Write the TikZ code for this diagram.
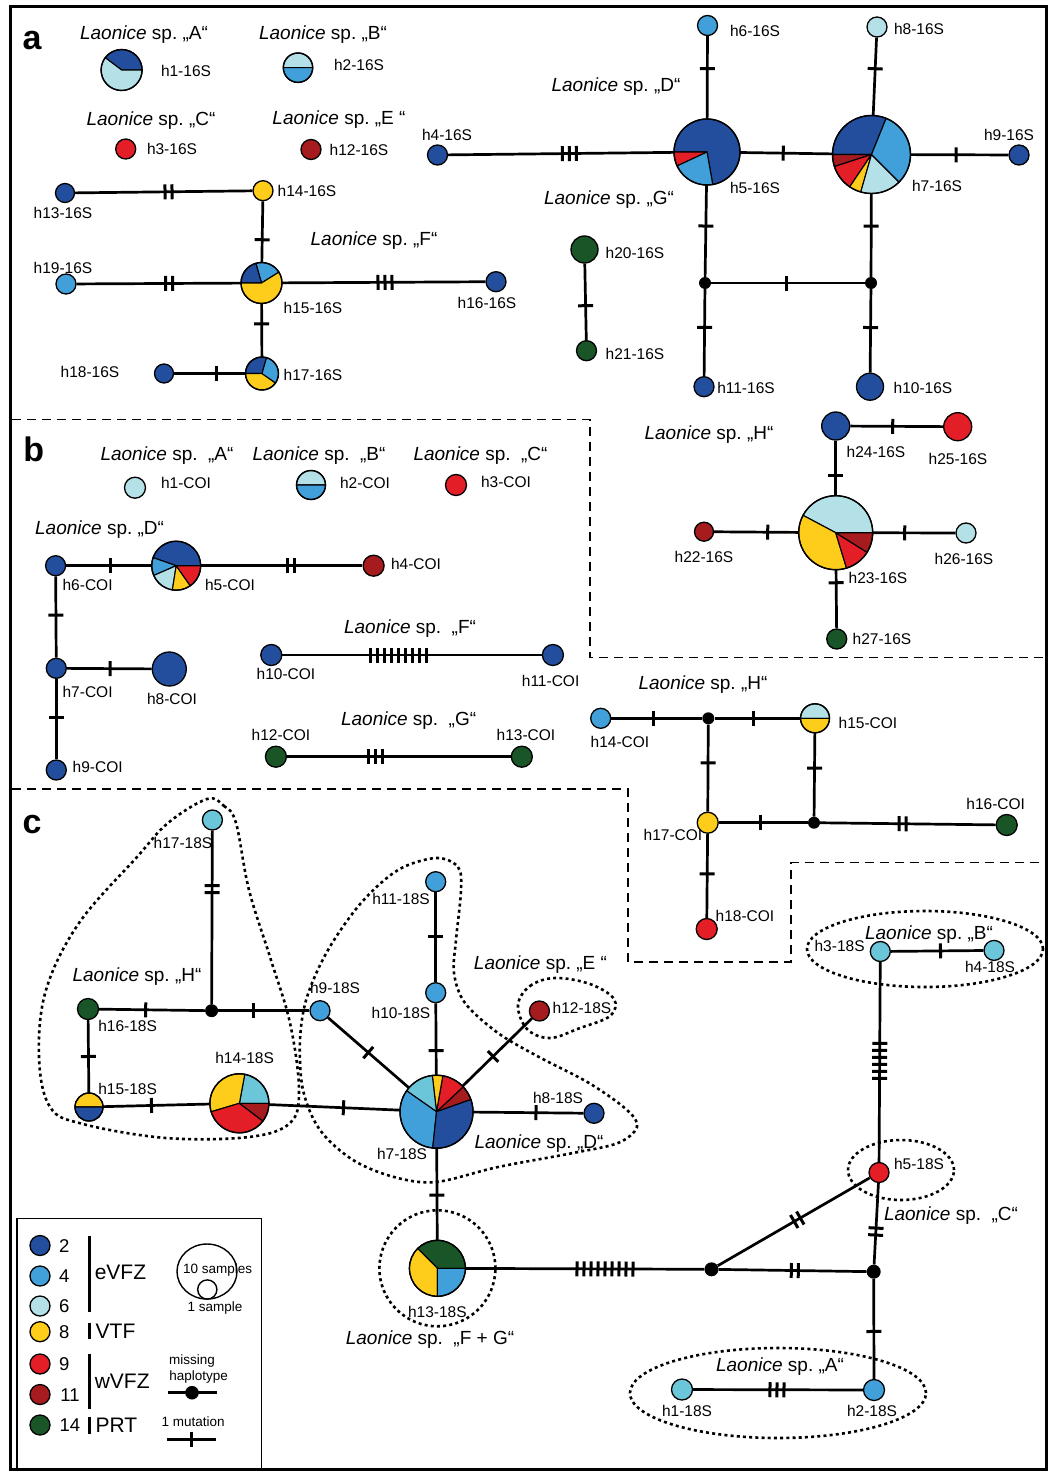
\documentclass[tikz,border=0pt]{standalone}
\usepackage{fontspec}
\setmainfont{Liberation Sans}
\usetikzlibrary{decorations.markings}
\definecolor{cdb}{RGB}{35,78,158}
\definecolor{cmb}{RGB}{65,160,218}
\definecolor{clb}{RGB}{180,224,232}
\definecolor{cy}{RGB}{254,204,26}
\definecolor{cr}{RGB}{228,30,38}
\definecolor{cdr}{RGB}{166,27,30}
\definecolor{cg}{RGB}{26,85,40}
\definecolor{ccy}{RGB}{108,198,218}
\newcommand\Lsp{\textit{Laonice} sp.\ }
\newcommand\Lspw{\textit{Laonice} sp.\hspace{0.55em}}
\newcommand\hpie[3]{%
  \foreach \a/\b/\c in {#3}{\filldraw[fill=\c, draw=black, line width=1.1pt, line join=round] (#1.center) -- ++(\a:#2pt) arc[start angle=\a, end angle=\b, radius=#2pt] -- cycle;}%
  \draw[line width=1.4pt] (#1.center) circle[radius=#2pt];}
\tikzset{
  edge/.style={line width=2.7pt},
  hap/.style={circle, draw=black, line width=1.3pt, inner sep=0pt, minimum size=#1},
  pnode/.style={circle, inner sep=0pt, minimum size=#1},
  miss/.style={circle, fill=black, inner sep=0pt, minimum size=#1},
  lab/.style={inner sep=0pt, font=\fontsize{15.5}{17}\selectfont, text height=11.1pt, text depth=0pt},
  spl/.style={inner sep=0pt, font=\fontsize{19}{20}\selectfont, text height=13.6pt, text depth=0pt},
  legnum/.style={inner sep=0pt, font=\fontsize{18.5}{20}\selectfont, text height=13.2pt, text depth=0pt},
  legreg/.style={inner sep=0pt, anchor=west, font=\fontsize{21}{22}\selectfont, text height=15pt, text depth=0pt},
  legsm/.style={inner sep=0pt, font=\fontsize{13.5}{14}\selectfont, text height=9.7pt, text depth=0pt},
  panel/.style={inner sep=0pt, anchor=base, font=\fontsize{34}{34}\selectfont\bfseries},
  pdash/.style={line width=1.4pt, dash pattern=on 9pt off 6pt},
  blob/.style={line width=2.6pt, dash pattern=on 3pt off 3.2pt},
  mut/.style 2 args={postaction={decorate, decoration={markings, mark=at position #1 with {\foreach \k in {1,...,#2}{\draw[line width=3pt] ({(\k-(#2+1)/2)*7pt},-7.5pt) -- ({(\k-(#2+1)/2)*7pt},7.5pt);}}}}}
}
\begin{document}
\begin{tikzpicture}[x=1pt,y=-1pt]
\useasboundingbox (0,0) rectangle (1051,1471);
\fill[white] (0,0) rectangle (1051,1471);
% frame and panel separators
\draw[line width=3pt] (10.5,7) rectangle (1046.5,1469.5);
\draw[pdash] (12,419.5) -- (590,419.5) -- (590,657.7) -- (1045,657.7);
\draw[pdash] (12,789) -- (628,789) -- (628,962) -- (791,962) -- (791,862.5) -- (1045,862.5);

% ---------------- panel a nodes ----------------
\node[pnode=41pt] (a1) at (121.6,70) {};
\node[pnode=29.4pt] (a2) at (298,67.7) {};
\node[hap=20pt, fill=cr] (a3) at (125.7,149) {};
\node[hap=20pt, fill=cdr] (a12) at (311,149.5) {};
\node[hap=20pt, fill=cdb] (a4) at (437.5,155) {};
\node[pnode=66pt] (a5) at (707,152) {};
\node[hap=20pt, fill=cmb] (a6) at (707.5,25.5) {};
\node[pnode=78pt] (a7) at (871.5,154.5) {};
\node[hap=20pt, fill=clb] (a8) at (877,27) {};
\node[hap=20pt, fill=cdb] (a9) at (1019,155) {};
\node[miss=12pt] (am1) at (705,283) {};
\node[miss=12pt] (am2) at (871,283) {};
\node[hap=20pt, fill=cdb] (a11) at (704,386.7) {};
\node[hap=27pt, fill=cdb] (a10) at (870,386.7) {};
\node[hap=27pt, fill=cg] (a20) at (584.5,249.5) {};
\node[hap=20pt, fill=cg] (a21) at (586.5,350.7) {};
\node[hap=19pt, fill=cdb] (a13) at (65,193) {};
\node[hap=20pt, fill=cy] (a14) at (263,190.7) {};
\node[pnode=41pt] (a15) at (261.5,283) {};
\node[hap=20pt, fill=cmb] (a19) at (66,284) {};
\node[hap=20pt, fill=cdb] (a16) at (496,281.7) {};
\node[pnode=33pt] (a17) at (262,373.5) {};
\node[hap=19pt, fill=cdb] (a18) at (164,373.5) {};
\node[hap=28pt, fill=cdb] (a24) at (835.7,426) {};
\node[hap=28pt, fill=cr] (a25) at (957.7,426.7) {};
\node[pnode=74pt] (a23) at (835.7,532.7) {};
\node[hap=19pt, fill=cdr] (a22) at (704,531.7) {};
\node[hap=20pt, fill=clb] (a26) at (966,533) {};
\node[hap=20pt, fill=cg] (a27) at (836.7,639) {};

% ---------------- panel b nodes ----------------
\node[hap=21pt, fill=clb] (b1) at (135,487.7) {};
\node[pnode=29pt] (b2) at (311,485) {};
\node[hap=21pt, fill=cr] (b3) at (456,485) {};
\node[hap=20pt, fill=cdb] (b6) at (55.6,565.7) {};
\node[pnode=49pt] (b5) at (176.2,565.7) {};
\node[hap=21pt, fill=cdr] (b4) at (373.6,565.7) {};
\node[hap=20pt, fill=cdb] (b7) at (56.3,668.3) {};
\node[hap=34pt, fill=cdb] (b8) at (169.3,669) {};
\node[hap=20pt, fill=cdb] (b9) at (56.3,770) {};
\node[hap=21pt, fill=cdb] (b10) at (271.3,655) {};
\node[hap=21pt, fill=cdb] (b11) at (552.9,655) {};
\node[hap=21pt, fill=cg] (b12) at (275.9,756.7) {};
\node[hap=21pt, fill=cg] (b13) at (521.8,756.7) {};
\node[hap=20pt, fill=cmb] (b14) at (600.7,718.3) {};
\node[miss=12pt] (bm3) at (708.3,718.3) {};
\node[pnode=29pt] (b15) at (815,718.3) {};
\node[hap=21pt, fill=cy] (b17) at (707.7,822.7) {};
\node[miss=12pt] (bm4) at (814,822.7) {};
\node[hap=21pt, fill=cg] (b16) at (1006.7,825) {};
\node[hap=21pt, fill=cr] (b18) at (706.7,929) {};

% ---------------- panel c nodes ----------------
\node[hap=20pt, fill=ccy] (c17) at (212.4,820) {};
\node[miss=13pt] (cm5) at (211.6,1010.7) {};
\node[hap=21pt, fill=cg] (c16) at (88,1009) {};
\node[hap=20pt, fill=cmb] (c9) at (320,1010.7) {};
\node[pnode=28pt] (c15) at (89,1107) {};
\node[pnode=59pt] (c14) at (239.4,1103.3) {};
\node[hap=20pt, fill=cmb] (c11) at (435.7,881.7) {};
\node[hap=20pt, fill=cmb] (c10) at (435.7,992.7) {};
\node[pnode=73pt] (c7) at (436.5,1111.7) {};
\node[hap=20pt, fill=cdr] (c12) at (539.4,1011) {};
\node[hap=20pt, fill=cdb] (c8) at (594,1113.3) {};
\node[pnode=56pt] (c13) at (437.4,1268.3) {};
\node[miss=14pt] (cm6) at (711.5,1269.3) {};
\node[miss=14pt] (cm7) at (873.7,1271.7) {};
\node[hap=20pt, fill=cr] (c5) at (879,1172.5) {};
\node[hap=20pt, fill=ccy] (c3) at (880.3,951.5) {};
\node[hap=20pt, fill=ccy] (c4) at (994,950.4) {};
\node[hap=21pt, fill=ccy] (c1) at (682,1389.5) {};
\node[hap=21pt, fill=cmb] (c2) at (874,1390) {};

% ---------------- dotted groupings (panel c) ----------------
\draw[blob] plot[smooth cycle, tension=0.6] coordinates {(207,799) (224,806) (236,823) (249,890) (270,957) (290,1023) (299,1090) (290,1123) (249,1137) (166,1138) (83,1124) (50,1107) (39,1057) (46,990) (79,923) (137,857) (168,823)};
\draw[blob] plot[smooth cycle, tension=0.55] coordinates {(436,858) (458,867) (461,890) (456,940) (454,973) (465,1003) (498,1033) (539,1057) (589,1083) (627,1110) (637,1127) (618,1143) (573,1153) (498,1167) (436,1182) (394,1177) (353,1160) (320,1130) (303,1090) (300,1040) (307,997) (328,950) (361,903) (398,870)};
\draw[blob] plot[smooth cycle, tension=0.6] coordinates {(518,1005) (530,986) (555,978) (590,984) (614,999) (610,1016) (580,1028) (550,1038) (527,1029)};
\draw[blob] (437.4,1268.3) circle[radius=58pt];
\draw[blob] (778,1393) ellipse[x radius=148pt, y radius=45pt];
\draw[blob] (925,949) ellipse[x radius=118pt, y radius=38pt];
\draw[blob] (901,1170) ellipse[x radius=53pt, y radius=30pt];

% ---------------- edges panel a ----------------
\draw[edge, mut={0.537}{3}] (a4) -- (a5);
\draw[edge, mut={0.467}{1}] (a5) -- (a7);
\draw[edge, mut={0.465}{1}] (a7) -- (a9);
\draw[edge, mut={0.393}{1}] (a6) -- (a5);
\draw[edge, mut={0.40}{1}] (a8) -- (a7);
\draw[edge, mut={0.446}{1}] (a5) -- (am1);
\draw[edge, mut={0.39}{1}] (a7) -- (am2);
\draw[edge, mut={0.49}{1}] (am1) -- (am2);
\draw[edge, mut={0.44}{1}] (am1) -- (a11);
\draw[edge, mut={0.46}{1}] (am2) -- (a10);
\draw[edge, mut={0.55}{1}] (a20) -- (a21);
\draw[edge, mut={0.527}{2}] (a13) -- (a14);
\draw[edge, mut={0.63}{1}] (a14) -- (a15);
\draw[edge, mut={0.563}{2}] (a19) -- (a15);
\draw[edge, mut={0.506}{3}] (a15) -- (a16);
\draw[edge, mut={0.38}{1}] (a15) -- (a17);
\draw[edge, mut={0.59}{1}] (a18) -- (a17);
\draw[edge, mut={0.457}{1}] (a24) -- (a25);
\draw[edge, mut={0.64}{1}] (a24) -- (a23);
\draw[edge, mut={0.635}{1}] (a22) -- (a23);
\draw[edge, mut={0.386}{1}] (a23) -- (a26);
\draw[edge, mut={0.22}{1}] (a23) -- (a27);

% ---------------- edges panel b ----------------
\draw[edge, mut={0.518}{1}] (b6) -- (b5);
\draw[edge, mut={0.555}{2}] (b5) -- (b4);
\draw[edge, mut={0.476}{1}] (b6) -- (b7);
\draw[edge, mut={0.51}{1}] (b7) -- (b8);
\draw[edge, mut={0.476}{1}] (b7) -- (b9);
\draw[edge, mut={0.446}{9}] (b10) -- (b11);
\draw[edge, mut={0.396}{3}] (b12) -- (b13);
\draw[edge, mut={0.46}{1}] (b14) -- (bm3);
\draw[edge, mut={0.45}{1}] (bm3) -- (b15);
\draw[edge, mut={0.44}{1}] (bm3) -- (b17);
\draw[edge, mut={0.42}{1}] (b15) -- (bm4);
\draw[edge, mut={0.464}{1}] (b17) -- (bm4);
\draw[edge, mut={0.47}{2}] (bm4) -- (b16);
\draw[edge, mut={0.476}{1}] (b17) -- (b18);

% ---------------- edges panel c ----------------
\draw[edge, mut={0.337}{2}] (c17) -- (cm5);
\draw[edge, mut={0.44}{1}] (c16) -- (cm5);
\draw[edge, mut={0.39}{1}] (cm5) -- (c9);
\draw[edge, mut={0.50}{1}] (c16) -- (c15);
\draw[edge, mut={0.453}{1}] (c15) -- (c14);
\draw[edge, mut={0.569}{1}] (c14) -- (c7);
\draw[edge, mut={0.50}{1}] (c9) -- (c7);
\draw[edge, mut={0.49}{1}] (c11) -- (c10);
\draw[edge, mut={0.66}{1}] (c10) -- (c7);
\draw[edge, mut={0.44}{1}] (c7) -- (c12);
\draw[edge, mut={0.57}{1}] (c7) -- (c8);
\draw[edge, mut={0.51}{1}] (c7) -- (c13);
\draw[edge, mut={0.584}{9}] (c13) -- (cm6);
\draw[edge, mut={0.515}{2}] (cm6) -- (cm7);
\draw[edge, mut={0.523}{2}] (cm6) -- (c5);
\draw[edge, mut={0.595}{2}] (c5) -- (cm7);
\draw[edge, mut={0.526}{1}] (cm7) -- (c2);
\draw[edge, mut={0.494}{3}] (c1) -- (c2);
\draw[edge, mut={0.536}{1}] (c3) -- (c4);
\draw[edge, mut={0.494}{6}] (c3) -- (c5);

% ---------------- pies ----------------
\hpie{a1}{20.5}{0/143/cdb, 143/360/clb}
\hpie{a2}{14.7}{0/180/clb, 180/360/cmb}
\hpie{a5}{33}{-80/180/cdb, 180/205/cr, 205/280/cmb}
\hpie{a7}{39}{68/180/cdb, 180/198/cdr, 198/236/cr, 236/254/cy, 254/315/clb, 315/428/cmb}
\hpie{a15}{20.5}{32/106/cmb, 106/180/cdb, 180/392/cy}
\hpie{a17}{16.5}{74/180/cdb, 180/325/cy, 325/434/cmb}
\hpie{a23}{37}{0/152/clb, 152/287/cy, 287/328/cr, 328/360/cdr}
\hpie{b2}{14.5}{0/180/clb, 180/360/cmb}
\hpie{b5}{24.5}{0/160.7/cdb, 160.7/203.5/cmb, 203.5/261/clb, 261/305/cy, 305/360/cr}
\hpie{b15}{14.5}{0/180/clb, 180/360/cy}
\hpie{c15}{14}{0/180/cy, 180/360/cdb}
\hpie{c14}{29.5}{0/79.5/ccy, 79.5/196.6/cy, 196.6/323/cr, 323/360/cdr}
\hpie{c7}{36.5}{19.5/43/cdr, 43/80/cr, 80/96.6/cy, 96.6/145/ccy, 145/264/cmb, 264/379.5/cdb}
\hpie{c13}{28}{0/135/cg, 135/270/cy, 270/360/cmb}

% ---------------- labels panel a ----------------
\node[panel] (pa) at (32,50) {a};
\node[spl] (ta1) at (144,33) {\Lsp „A“};
\node[lab] (la1) at (186,71) {h1-16S};
\node[spl] (ta2) at (323,33) {\Lsp „B“};
\node[lab] (la2) at (359,65) {h2-16S};
\node[spl] (ta3) at (151,119) {\Lsp „C“};
\node[lab] (la3) at (172,149) {h3-16S};
\node[spl] (ta4) at (339,118) {\Lsp „E “};
\node[lab] (la12) at (359,150) {h12-16S};
\node[lab] (la4) at (447,135) {h4-16S};
\node[lab] (la6) at (755,30.7) {h6-16S};
\node[lab] (la8) at (919,29) {h8-16S};
\node[spl] (ta5) at (616,85) {\Lsp „D“};
\node[lab] (la9) at (1009,135) {h9-16S};
\node[lab] (la5) at (755,188) {h5-16S};
\node[lab] (la7) at (937,186) {h7-16S};
\node[spl] (ta6) at (609,198) {\Lsp „G“};
\node[lab] (la20) at (635,253) {h20-16S};
\node[lab] (la21) at (635,354) {h21-16S};
\node[lab] (la11) at (746,388) {h11-16S};
\node[lab] (la10) at (923,388) {h10-16S};
\node[lab] (la13) at (63,213) {h13-16S};
\node[lab] (la14) at (307,191) {h14-16S};
\node[spl] (ta7) at (374,239) {\Lsp „F“};
\node[lab] (la19) at (63,268) {h19-16S};
\node[lab] (la16) at (487,303) {h16-16S};
\node[lab] (la15) at (313,308) {h15-16S};
\node[lab] (la17) at (313,375) {h17-16S};
\node[lab] (la18) at (90,372) {h18-16S};
\node[spl] (ta8) at (709,433) {\Lsp „H“};
\node[lab] (la24) at (876,451.7) {h24-16S};
\node[lab] (la25) at (958,459) {h25-16S};
\node[lab] (la22) at (704,556.7) {h22-16S};
\node[lab] (la26) at (964,559) {h26-16S};
\node[lab] (la23) at (878,578) {h23-16S};
\node[lab] (la27) at (882,639) {h27-16S};

% ---------------- labels panel b ----------------
\node[panel] (pb) at (33.7,461.7) {b};
\node[spl] (tb1) at (167,454) {\Lspw „A“};
\node[lab] (lb1) at (186,483) {h1-COI};
\node[spl] (tb2) at (319,454) {\Lspw „B“};
\node[lab] (lb2) at (365,483) {h2-COI};
\node[spl] (tb3) at (480.5,454) {\Lspw „C“};
\node[lab] (lb3) at (506,482) {h3-COI};
\node[spl] (tb4) at (99.6,527.7) {\Lsp „D“};
\node[lab] (lb6) at (87.6,585) {h6-COI};
\node[lab] (lb5) at (230,585) {h5-COI};
\node[lab] (lb4) at (416,564.3) {h4-COI};
\node[lab] (lb7) at (87.6,691.7) {h7-COI};
\node[lab] (lb8) at (172,699.3) {h8-COI};
\node[lab] (lb9) at (97.7,766.7) {h9-COI};
\node[spl] (tb5) at (410,626.7) {\Lspw „F“};
\node[lab] (lb10) at (286,674) {h10-COI};
\node[lab] (lb11) at (550.6,680.7) {h11-COI};
\node[spl] (tb6) at (408.6,718.3) {\Lspw „G“};
\node[lab] (lb12) at (281,735) {h12-COI};
\node[lab] (lb13) at (526,735) {h13-COI};
\node[spl] (tb7) at (703,683) {\Lsp „H“};
\node[lab] (lb14) at (620,741.7) {h14-COI};
\node[lab] (lb15) at (868,723) {h15-COI};
\node[lab] (lb17) at (673,835) {h17-COI};
\node[lab] (lb16) at (995.7,804) {h16-COI};
\node[lab] (lb18) at (745,916) {h18-COI};

% ---------------- labels panel c ----------------
\node[panel] (pc) at (32,833) {c};
\node[lab] (lc17) at (183,843) {h17-18S};
\node[spl] (tc1) at (137,975) {\Lsp „H“};
\node[lab] (lc16) at (127.6,1026) {h16-18S};
\node[lab] (lc9) at (335,988) {h9-18S};
\node[lab] (lc15) at (127.6,1089) {h15-18S};
\node[lab] (lc14) at (244.6,1057.7) {h14-18S};
\node[lab] (lc11) at (401,899) {h11-18S};
\node[lab] (lc10) at (401,1012.7) {h10-18S};
\node[lab] (lc12) at (582,1008) {h12-18S};
\node[spl] (tc2) at (540.5,963) {\Lsp „E “};
\node[lab] (lc8) at (558,1098) {h8-18S};
\node[spl] (tc3) at (539,1141.7) {\Lsp „D“};
\node[lab] (lc7) at (402,1154) {h7-18S};
\node[lab] (lc13) at (437.4,1311.7) {h13-18S};
\node[spl] (tc4) at (430,1338) {\Lspw „F + G“};
\node[lab] (lc3) at (839.6,945.8) {h3-18S};
\node[lab] (lc4) at (990,966.9) {h4-18S};
\node[spl] (tc5) at (929,932.4) {\Lsp „B“};
\node[lab] (lc5) at (919,1164) {h5-18S};
\node[spl] (tc6) at (951,1214) {\Lspw „C“};
\node[lab] (lc1) at (687,1410.5) {h1-18S};
\node[lab] (lc2) at (872,1411) {h2-18S};
\node[spl] (tc7) at (780,1365) {\Lsp „A“};

% ---------------- legend ----------------
\draw[line width=1.5pt] (17,1218.3) rectangle (261.4,1468.3);
\node[hap=20pt, fill=cdb] (g2) at (40,1245.5) {};
\node[hap=20pt, fill=cmb] (g4) at (40,1276) {};
\node[hap=20pt, fill=clb] (g6) at (40,1306) {};
\node[hap=20pt, fill=cy] (g8) at (40,1331.7) {};
\node[hap=20pt, fill=cr] (g9) at (40,1364) {};
\node[hap=20pt, fill=cdr] (g11) at (40,1394.5) {};
\node[hap=20pt, fill=cg] (g14) at (40,1425) {};
\node[legnum] (n2) at (64.3,1245.5) {2};
\node[legnum] (n4) at (64.3,1276) {4};
\node[legnum] (n6) at (64.3,1306) {6};
\node[legnum] (n8) at (64.3,1331.7) {8};
\node[legnum] (n9) at (64.3,1364) {9};
\node[legnum] (n11) at (70,1394.5) {11};
\node[legnum] (n14) at (70,1425) {14};
\draw[line width=3pt] (89.3,1236) -- (89.3,1311.7);
\draw[line width=3pt] (89.3,1322.7) -- (89.3,1339.3);
\draw[line width=3pt] (89.3,1354) -- (89.3,1409);
\draw[line width=3pt] (89.3,1416.7) -- (89.3,1434.3);
\node[legreg] (r1) at (94.6,1271.7) {eVFZ};
\node[legreg] (r2) at (95.5,1331) {VTF};
\node[legreg] (r3) at (94.6,1381) {wVFZ};
\node[legreg] (r4) at (95.5,1425) {PRT};
\draw[line width=1.4pt] (207,1271.5) ellipse[x radius=30pt, y radius=27.5pt];
\draw[line width=1.4pt] (207.3,1289.5) circle[radius=9.6pt];
\node[legsm] (s1) at (217.7,1268.3) {10 samples};
\node[legsm] (s2) at (215,1306.7) {1 sample};
\node[legsm] (s3) at (192,1359.3) {missing};
\node[legsm] (s4) at (198.6,1376) {haplotype};
\draw[line width=2.7pt] (168,1392.7) -- (216.8,1392.7);
\node[miss=13.6pt] (gm) at (192,1392.7) {};
\node[legsm] (s5) at (193.2,1421.7) {1 mutation};
\draw[line width=2.7pt] (167,1439.3) -- (216,1439.3);
\draw[line width=3pt] (191,1431.7) -- (191,1447.3);
\end{tikzpicture}
\end{document}
